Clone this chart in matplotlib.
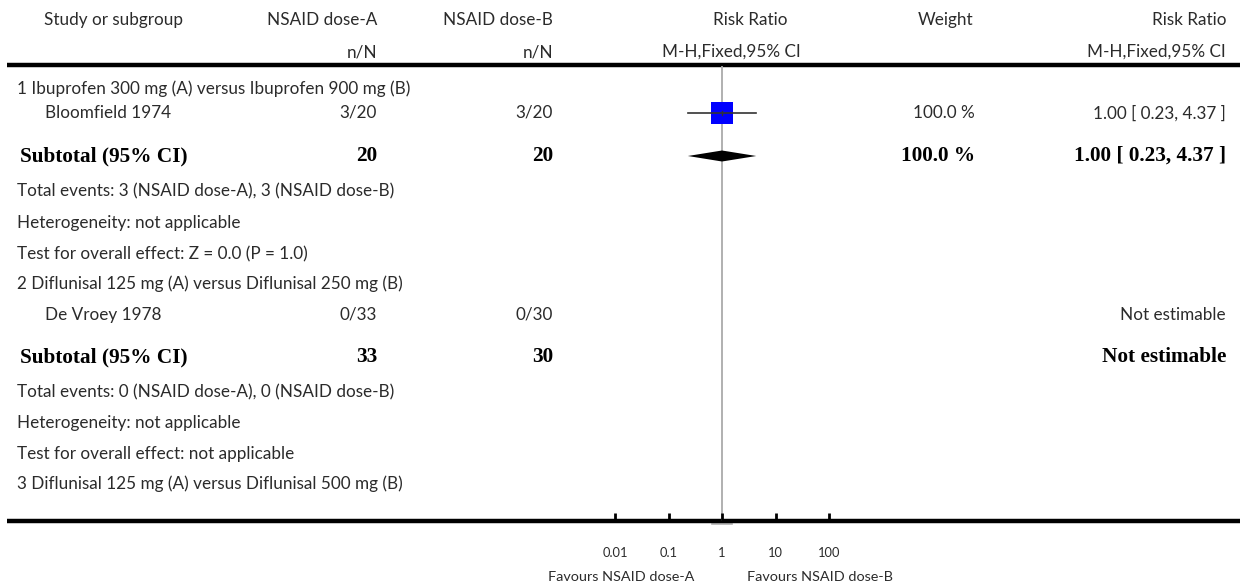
import matplotlib
matplotlib.use("Agg")
import matplotlib.pyplot as plt
from matplotlib.patches import Rectangle, Polygon
from matplotlib.ticker import NullLocator
import numpy as np

# ---- data ----
group_titles = [
    "1 Ibuprofen 300 mg (A) versus Ibuprofen 900 mg (B)",
    "2 Diflunisal 125 mg (A) versus Diflunisal 250 mg (B)",
    "3 Diflunisal 125 mg (A) versus Diflunisal 500 mg (B)",
]
studies = ["Bloomfield 1974", "De Vroey 1978"]
events_a = [3, 0]
total_a = [20, 33]
events_b = [3, 0]
total_b = [20, 30]
rr = [1.00, None]
rr_lo = [0.23, None]
rr_hi = [4.37, None]
weights = [100.0, None]

subtotal_n_a = [20, 33]
subtotal_n_b = [20, 30]
subtotal_rr = [1.00, None]
subtotal_lo = [0.23, None]
subtotal_hi = [4.37, None]
subtotal_weight = [100.0, None]
total_events_text = [
    "Total events: 3 (NSAID dose-A), 3 (NSAID dose-B)",
    "Total events: 0 (NSAID dose-A), 0 (NSAID dose-B)",
]
heterogeneity_text = ["Heterogeneity: not applicable", "Heterogeneity: not applicable"]
overall_text = ["Test for overall effect: Z = 0.0 (P = 1.0)",
                "Test for overall effect: not applicable"]

axis_ticks = [0.01, 0.1, 1, 10, 100]
axis_tick_labels = ["0.01", "0.1", "1", "10", "100"]
favours_left = "Favours NSAID dose-A"
favours_right = "Favours NSAID dose-B"

# ---- layout (pixels) ----
W, H = 1244, 587
SANS = ["Lato", "DejaVu Sans"]
SERIF = ["Liberation Serif", "DejaVu Serif"]
FS = 12.3
FS_B = 15.3
TXT = "#2b2b2b"

fig = plt.figure(figsize=(W / 100, H / 100), dpi=100)
bg = fig.add_axes([0, 0, 1, 1])
bg.set_xlim(0, W)
bg.set_ylim(H, 0)
bg.axis("off")

x_study = 17
x_study_indent = 45
x_na = 377
x_nb = 553
x_weight = 975
x_rr = 1226


def t(x, y, s, ha="left", bold=False):
    if bold:
        bg.text(x, y, s, ha=ha, va="center", fontsize=FS_B, fontweight="bold",
                family=SERIF, color="black")
    else:
        bg.text(x, y, s, ha=ha, va="center", fontsize=FS, family=SANS,
                color=TXT)


# header
t(113, 20, "Study or subgroup", ha="center")
t(x_na, 20, "NSAID dose-A", ha="right")
t(x_na, 52, "n/N", ha="right")
t(x_nb, 20, "NSAID dose-B", ha="right")
t(x_nb, 52, "n/N", ha="right")
t(750, 20, "Risk Ratio", ha="center")
t(731, 52, "M-H,Fixed,95% CI", ha="center")
t(973, 20, "Weight", ha="right")
t(x_rr, 20, "Risk Ratio", ha="right")
t(x_rr, 52, "M-H,Fixed,95% CI", ha="right")

bg.plot([7, 1240], [64.5, 64.5], color="black", lw=3.2, solid_capstyle="butt")
bg.plot([7, 1240], [521, 521], color="black", lw=3.2, solid_capstyle="butt")

# row positions
title_y = [89, 284, 484]
study_y = [113, 315]
subtotal_y = [156, 357]
events_y = [191, 392]
het_y = [223, 423]
overall_y = [254, 454]

# forest axes: log scale, 1 at x=722, ~53.5 px per decade
x0_px, x1_px = 615, 829
dec_px = (x1_px - x0_px) / 4.0
fx = fig.add_axes([x0_px / W, (H - 521) / H, (x1_px - x0_px) / W, (521 - 66) / H])
fx.set_xscale("log")
fx.set_xlim(0.01, 100)
fx.set_ylim(521, 66)
fx.patch.set_visible(False)
for s in fx.spines.values():
    s.set_visible(False)
fx.set_yticks([])
fx.set_xticks(axis_ticks)
fx.set_xticklabels(axis_tick_labels, family=SANS, fontsize=9.3, color=TXT)
fx.xaxis.set_minor_locator(NullLocator())
fx.tick_params(axis="x", direction="in", length=6, width=2, pad=19, color="black")
fx.axvline(1, color="#aaaaaa", lw=1.3, zorder=1)
# short grey stub under the axis at the line of no effect
bg.plot([712, 732], [523.5, 523.5], color="#b0b0b0", lw=1.2, zorder=0)

for i, title in enumerate(group_titles):
    t(x_study, title_y[i], title)

for i, name in enumerate(studies):
    y = study_y[i]
    t(x_study_indent, y, name)
    t(x_na, y, f"{events_a[i]}/{total_a[i]}", ha="right")
    t(x_nb, y, f"{events_b[i]}/{total_b[i]}", ha="right")
    if rr[i] is None:
        t(x_rr, y, "Not estimable", ha="right")
    else:
        t(x_weight, y, f"{weights[i]:.1f} %", ha="right")
        t(x_rr, y, f"{rr[i]:.2f} [ {rr_lo[i]:.2f}, {rr_hi[i]:.2f} ]", ha="right")
        fx.plot([rr_lo[i], rr_hi[i]], [y, y], color="#333333", lw=1.2, zorder=3)
        # square sized by weight
        half = 11 * np.sqrt(weights[i] / 100.0)
        xl = rr[i] * 10 ** (-half / dec_px)
        xr = rr[i] * 10 ** (half / dec_px)
        fx.add_patch(Rectangle((xl, y - half), xr - xl, 2 * half,
                               facecolor="#0000ff", edgecolor="none", zorder=2))
        fx.plot([rr[i], rr[i]], [y - 2, y + 2], color="#333333", lw=1, zorder=3)

for i in range(len(subtotal_y)):
    y = subtotal_y[i]
    t(20, y, "Subtotal (95% CI)", bold=True)
    t(x_na, y, f"{subtotal_n_a[i]}", ha="right", bold=True)
    t(x_nb, y, f"{subtotal_n_b[i]}", ha="right", bold=True)
    if subtotal_rr[i] is None:
        t(x_rr, y, "Not estimable", ha="right", bold=True)
    else:
        t(x_weight, y, f"{subtotal_weight[i]:.1f} %", ha="right", bold=True)
        t(x_rr, y, f"{subtotal_rr[i]:.2f} [ {subtotal_lo[i]:.2f}, {subtotal_hi[i]:.2f} ]",
          ha="right", bold=True)
        fx.add_patch(Polygon([(subtotal_lo[i], y), (subtotal_rr[i], y - 5.5),
                              (subtotal_hi[i], y), (subtotal_rr[i], y + 5.5)],
                             closed=True, facecolor="black", edgecolor="none", zorder=3))
    t(x_study, events_y[i], total_events_text[i])
    t(x_study, het_y[i], heterogeneity_text[i])
    t(x_study, overall_y[i], overall_text[i])

bg.text(621, 577, favours_left, ha="center", va="center", fontsize=10.4,
        family=SANS, color=TXT)
bg.text(820, 577, favours_right, ha="center", va="center", fontsize=10.4,
        family=SANS, color=TXT)

fig.savefig("out.png", dpi=100)
